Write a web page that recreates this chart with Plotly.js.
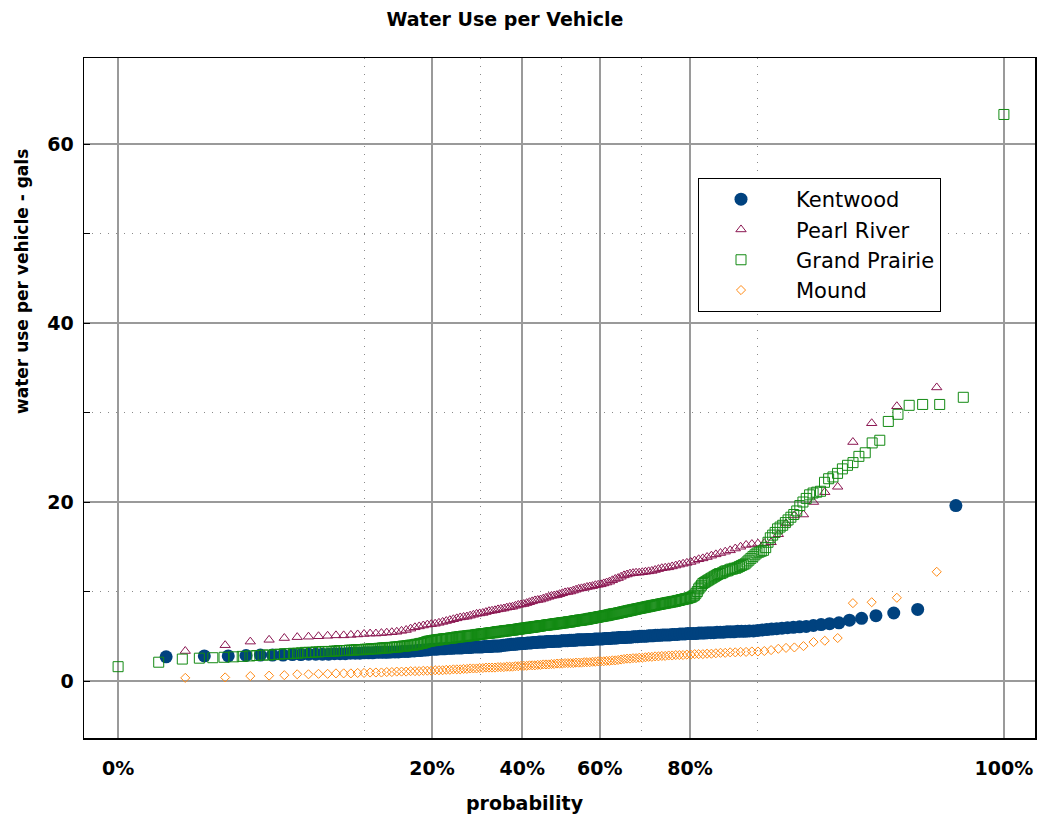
<!DOCTYPE html>
<html><head><meta charset="utf-8">
<script src="https://cdn.plot.ly/plotly-3.0.1.min.js"></script>
<style>html,body{margin:0;padding:0;background:#fff}#chart{width:1040px;height:823px}</style>
</head><body><div id="chart"></div>
<script>
const seriesNames = ['Kentwood', 'Pearl River', 'Grand Prairie', 'Mound'];

const kentwood = [
 2.7,2.8,2.8,2.85,2.9,2.9,2.9,2.95,2.95,3.0,
 3.0,3.0,3.0,3.05,3.05,3.05,3.1,3.1,3.1,3.15,
 3.15,3.15,3.2,3.2,3.2,3.2,3.25,3.25,3.25,3.3,
 3.3,3.3,3.35,3.35,3.4,3.4,3.45,3.45,3.5,3.55,
 3.55,3.55,3.6,3.6,3.6,3.65,3.65,3.65,3.7,3.7,
 3.7,3.7,3.75,3.75,3.75,3.75,3.8,3.8,3.8,3.8,
 3.8,3.85,3.85,3.85,3.85,3.9,3.9,3.9,3.9,3.95,
 4.0,4.0,4.05,4.05,4.1,4.1,4.1,4.15,4.15,4.2,
 4.2,4.2,4.25,4.25,4.25,4.3,4.3,4.3,4.35,4.35,
 4.35,4.35,4.4,4.4,4.4,4.4,4.45,4.45,4.45,4.45,
 4.5,4.5,4.5,4.5,4.55,4.55,4.55,4.55,4.6,4.6,
 4.6,4.6,4.6,4.65,4.65,4.65,4.65,4.7,4.7,4.7,
 4.7,4.7,4.75,4.75,4.75,4.75,4.8,4.8,4.8,4.85,
 4.85,4.85,4.85,4.9,4.9,4.9,4.95,4.95,4.95,5.0,
 5.0,5.0,5.0,5.05,5.05,5.05,5.1,5.1,5.1,5.15,
 5.15,5.15,5.15,5.2,5.2,5.2,5.25,5.25,5.25,5.3,
 5.3,5.3,5.3,5.35,5.35,5.35,5.4,5.4,5.4,5.45,
 5.45,5.45,5.5,5.5,5.5,5.55,5.55,5.55,5.6,5.6,
 5.65,5.7,5.75,5.8,5.85,5.9,5.95,6.0,6.05,6.1,
 6.2,6.3,6.4,6.5,6.8,7.0,7.3,7.6,8.0,19.6
];

const pearlRiver = [
 3.35,4.0,4.4,4.6,4.8,4.9,4.95,5.0,5.05,5.1,
 5.1,5.15,5.2,5.25,5.3,5.3,5.35,5.4,5.45,5.5,
 5.6,5.7,5.85,6.0,6.1,6.2,6.3,6.35,6.4,6.5,
 6.6,6.7,6.8,6.9,7.0,7.1,7.15,7.2,7.3,7.4,
 7.5,7.55,7.6,7.7,7.8,7.85,7.9,8.0,8.05,8.1,
 8.2,8.25,8.3,8.4,8.5,8.55,8.6,8.7,8.8,8.9,
 9.0,9.05,9.1,9.2,9.3,9.4,9.5,9.55,9.6,9.7,
 9.8,9.9,9.95,10.0,10.1,10.2,10.3,10.35,10.4,10.5,
 10.55,10.6,10.7,10.75,10.8,10.9,11.0,11.1,11.25,11.4,
 11.5,11.65,11.8,11.9,12.0,12.05,12.1,12.1,12.15,12.2,
 12.25,12.3,12.4,12.5,12.6,12.65,12.7,12.8,12.9,13.0,
 13.1,13.2,13.3,13.45,13.6,13.7,13.85,14.0,14.15,14.3,
 14.45,14.6,14.8,15.0,15.2,15.3,15.35,15.4,15.5,16.4,
 17.6,18.5,18.6,20.0,21.1,21.7,26.7,28.8,30.7,32.8
];

const grandPrairie = [
 1.6,2.1,2.45,2.55,2.6,2.65,2.7,2.75,2.8,2.85,
 2.9,2.9,2.95,3.0,3.05,3.05,3.1,3.1,3.15,3.2,
 3.2,3.2,3.25,3.25,3.3,3.3,3.3,3.3,3.35,3.35,
 3.4,3.4,3.4,3.4,3.45,3.45,3.45,3.5,3.5,3.5,
 3.5,3.55,3.55,3.55,3.6,3.6,3.6,3.6,3.65,3.65,
 3.7,3.7,3.7,3.7,3.75,3.75,3.75,3.8,3.8,3.8,
 3.85,3.85,3.9,3.9,3.9,3.95,3.95,4.0,4.0,4.0,
 4.05,4.1,4.1,4.15,4.2,4.2,4.25,4.3,4.35,4.4,
 4.45,4.45,4.5,4.5,4.55,4.55,4.6,4.6,4.6,4.65,
 4.65,4.7,4.7,4.7,4.75,4.75,4.75,4.8,4.8,4.8,
 4.85,4.85,4.9,4.9,4.9,4.95,4.95,4.95,5.0,5.0,
 5.0,5.0,5.05,5.05,5.05,5.1,5.1,5.1,5.1,5.15,
 5.15,5.2,5.2,5.2,5.25,5.25,5.25,5.3,5.3,5.3,
 5.3,5.35,5.35,5.35,5.4,5.4,5.4,5.4,5.45,5.45,
 5.5,5.5,5.5,5.5,5.55,5.55,5.55,5.6,5.6,5.6,
 5.6,5.65,5.65,5.65,5.7,5.7,5.7,5.7,5.75,5.75,
 5.75,5.8,5.8,5.8,5.85,5.85,5.85,5.9,5.9,5.9,
 5.9,5.95,5.95,5.95,6.0,6.0,6.0,6.0,6.05,6.05,
 6.05,6.1,6.1,6.1,6.15,6.15,6.15,6.2,6.2,6.2,
 6.2,6.25,6.25,6.25,6.3,6.3,6.3,6.3,6.35,6.35,
 6.35,6.4,6.4,6.4,6.4,6.45,6.45,6.45,6.5,6.5,
 6.5,6.5,6.55,6.55,6.55,6.6,6.6,6.6,6.6,6.65,
 6.65,6.7,6.7,6.7,6.75,6.75,6.75,6.8,6.8,6.8,
 6.8,6.85,6.85,6.85,6.9,6.9,6.9,6.95,6.95,7.0,
 7.0,7.0,7.05,7.05,7.1,7.1,7.1,7.15,7.15,7.2,
 7.2,7.2,7.25,7.25,7.3,7.3,7.3,7.35,7.35,7.4,
 7.4,7.45,7.45,7.5,7.5,7.5,7.55,7.55,7.6,7.6,
 7.65,7.65,7.7,7.7,7.75,7.75,7.8,7.8,7.85,7.85,
 7.9,7.9,7.95,7.95,8.0,8.0,8.05,8.05,8.1,8.1,
 8.15,8.15,8.2,8.2,8.25,8.25,8.3,8.3,8.35,8.35,
 8.4,8.4,8.45,8.45,8.5,8.5,8.55,8.55,8.6,8.6,
 8.65,8.65,8.7,8.7,8.75,8.75,8.8,8.8,8.85,8.85,
 8.9,8.9,8.95,9.0,9.0,9.05,9.1,9.1,9.15,9.2,
 9.2,9.25,9.3,9.35,9.4,9.5,9.6,9.8,10.0,10.3,
 10.5,10.7,10.9,11.0,11.1,11.2,11.3,11.4,11.5,11.6,
 11.7,11.8,11.9,12.0,12.0,12.1,12.2,12.3,12.3,12.4,
 12.5,12.5,12.6,12.6,12.7,12.8,12.9,13.0,13.1,13.3,
 13.5,13.7,13.9,14.1,14.3,14.4,14.5,14.6,14.9,15.5,
 16.0,16.3,16.6,17.0,17.2,17.4,17.7,18.0,18.3,18.6,
 19.0,19.6,20.0,20.4,20.8,21.0,21.1,21.2,22.2,22.6,
 22.8,23.2,23.7,24.1,24.4,25.1,25.5,26.6,26.9,29.0,
 29.8,30.8,30.9,30.9,31.7,63.3
];

const mound = [
 0.35,0.4,0.55,0.6,0.65,0.75,0.75,0.8,0.8,0.85,
 0.85,0.85,0.9,0.9,0.95,0.95,0.95,1.0,1.0,1.05,
 1.05,1.05,1.1,1.1,1.1,1.15,1.15,1.15,1.2,1.2,
 1.2,1.25,1.25,1.3,1.3,1.3,1.35,1.35,1.4,1.4,
 1.4,1.45,1.45,1.5,1.5,1.5,1.5,1.55,1.55,1.55,
 1.6,1.6,1.6,1.65,1.65,1.7,1.7,1.7,1.75,1.75,
 1.75,1.8,1.8,1.85,1.85,1.85,1.9,1.9,1.95,1.95,
 1.95,2.0,2.0,2.0,2.0,2.05,2.05,2.05,2.1,2.1,
 2.1,2.15,2.15,2.2,2.2,2.2,2.25,2.25,2.3,2.3,
 2.35,2.4,2.45,2.5,2.5,2.55,2.55,2.6,2.6,2.65,
 2.7,2.7,2.75,2.75,2.8,2.8,2.85,2.85,2.9,2.9,
 2.9,2.95,2.95,3.0,3.0,3.0,3.05,3.05,3.1,3.15,
 3.15,3.2,3.2,3.25,3.25,3.3,3.3,3.35,3.45,3.6,
 3.7,3.75,3.9,4.35,4.5,4.8,8.7,8.8,9.3,12.2
];

const probabilityTickPct = [0, 20, 40, 60, 80, 100];
const probabilityMinorPct = [10, 30, 50, 70, 90];
const yTickVals = [0, 20, 40, 60];
const yMinorVals = [10, 30, 50];

// ---- normal probability scale ----
function normInv(p) {
  const a = [-3.969683028665376e+01, 2.209460984245205e+02, -2.759285104469687e+02, 1.383577518672690e+02, -3.066479806614716e+01, 2.506628277459239e+00];
  const b = [-5.447609879822406e+01, 1.615858368580409e+02, -1.556989798598866e+02, 6.680131188771972e+01, -1.328068155288572e+01];
  const c = [-7.784894002430293e-03, -3.223964580411365e-01, -2.400758277161838e+00, -2.549732539343734e+00, 4.374664141464968e+00, 2.938163982698783e+00];
  const d = [7.784695709041462e-03, 3.224671290700398e-01, 2.445134137142996e+00, 3.754408661907416e+00];
  const plow = 0.02425;
  let q, r;
  if (p < plow) {
    q = Math.sqrt(-2 * Math.log(p));
    return (((((c[0]*q+c[1])*q+c[2])*q+c[3])*q+c[4])*q+c[5]) / ((((d[0]*q+d[1])*q+d[2])*q+d[3])*q+1);
  } else if (p <= 1 - plow) {
    q = p - 0.5; r = q*q;
    return (((((a[0]*r+a[1])*r+a[2])*r+a[3])*r+a[4])*r+a[5])*q / (((((b[0]*r+b[1])*r+b[2])*r+b[3])*r+b[4])*r+1);
  } else {
    q = Math.sqrt(-2 * Math.log(1 - p));
    return -(((((c[0]*q+c[1])*q+c[2])*q+c[3])*q+c[4])*q+c[5]) / ((((d[0]*q+d[1])*q+d[2])*q+d[3])*q+1);
  }
}
// plotting positions (i - a)/(n + 1 - 2a) mapped to normal quantiles
function plotPositions(n, a) {
  const out = [];
  for (let i = 1; i <= n; i++) out.push(normInv((i - a) / (n + 1 - 2 * a)));
  return out;
}

const xK = plotPositions(kentwood.length, 0);
const xP = plotPositions(pearlRiver.length, 0);
const xG = plotPositions(grandPrairie.length, 0.2);
const xM = plotPositions(mound.length, 0);

const zMin = xG[0], zMax = xG[xG.length - 1];
const tickVals = probabilityTickPct.map(p => p === 0 ? zMin : (p === 100 ? zMax : normInv(p / 100)));
const tickText = probabilityTickPct.map(p => p + '%');
const minorVals = probabilityMinorPct.map(p => normInv(p / 100));

const FONT = 'DejaVu Sans, Liberation Sans, Arial, sans-serif';

const traces = [
  { x: xK, y: kentwood, name: seriesNames[0], type: 'scatter', mode: 'markers',
    marker: { symbol: 'circle', size: 13, color: '#00427f' } },
  { x: xP, y: pearlRiver, name: seriesNames[1], type: 'scatter', mode: 'markers',
    marker: { symbol: 'triangle-up-open', size: 9, color: '#8b1752', line: { width: 1, color: '#8b1752' } } },
  { x: xG, y: grandPrairie, name: seriesNames[2], type: 'scatter', mode: 'markers',
    marker: { symbol: 'square-open', size: 10, color: '#138a13', line: { width: 1, color: '#138a13' } } },
  { x: xM, y: mound, name: seriesNames[3], type: 'scatter', mode: 'markers',
    marker: { symbol: 'diamond-open', size: 7, color: '#ff8a14', line: { width: 1, color: '#ff8a14' } } }
];

const L = 84, R = 1035, T = 58, B = 738;
const pxPerZ = 153.2, zCenterPx = 561;
const pxPerY = 8.95, y0px = 681;

const layout = {
  width: 1040, height: 823,
  margin: { l: L, r: 1040 - R, t: T, b: 823 - B, pad: 0 },
  paper_bgcolor: '#ffffff', plot_bgcolor: '#ffffff',
  font: { family: FONT, color: '#000' },
  showlegend: true,
  title: { text: 'Water Use per Vehicle', font: { family: FONT, size: 19, weight: 'bold', color: '#000' },
           x: 505 / 1040, xref: 'container', xanchor: 'center', y: 1 - 19 / 823, yref: 'container', yanchor: 'middle' },
  xaxis: {
    range: [(L - zCenterPx) / pxPerZ, (R - zCenterPx) / pxPerZ],
    tickmode: 'array', tickvals: tickVals, ticktext: tickText,
    tickfont: { family: FONT, size: 19, weight: 'bold', color: '#000' },
    ticks: '', ticklabelstandoff: 13,
    showgrid: true, gridcolor: '#9a9a9a', gridwidth: 1.5,
    zeroline: false, showline: true, linecolor: '#000', linewidth: 1.5, mirror: true,
    minor: { tickmode: 'array', tickvals: minorVals, showgrid: true, gridcolor: '#8a8a8a', gridwidth: 1, griddash: '1px,7px', ticks: '' },
    fixedrange: true
  },
  yaxis: {
    range: [(y0px - B) / pxPerY, (y0px - T) / pxPerY],
    tickmode: 'array', tickvals: yTickVals, ticktext: yTickVals.map(String),
    tickfont: { family: FONT, size: 19, weight: 'bold', color: '#000' },
    ticks: 'inside', ticklen: 6, tickcolor: '#000', tickwidth: 1, ticklabelstandoff: 5,
    showgrid: true, gridcolor: '#9a9a9a', gridwidth: 1.5,
    zeroline: false, showline: true, linecolor: '#000', linewidth: 1.5, mirror: true,
    minor: { tickmode: 'array', tickvals: yMinorVals, showgrid: true, gridcolor: '#8a8a8a', gridwidth: 1, griddash: '1px,7px', ticks: 'inside', ticklen: 6, tickcolor: '#000' },
    fixedrange: true
  },
  legend: {
    x: (698 - L) / (R - L), y: (B - 178) / (B - T), xanchor: 'left', yanchor: 'top',
    bgcolor: '#ffffff', bordercolor: '#000', borderwidth: 1,
    font: { family: FONT, size: 21, color: '#000' },
    itemwidth: 100, indentation: -13, tracegroupgap: 0
  },
  annotations: [
    { text: 'probability', xref: 'paper', yref: 'paper', x: (525 - L) / (R - L), y: (B - 803) / (B - T),
      xanchor: 'center', yanchor: 'middle', showarrow: false,
      font: { family: FONT, size: 19, weight: 'bold', color: '#000' } },
    { text: 'water use per vehicle - gals', xref: 'paper', yref: 'paper', x: (22 - L) / (R - L), y: (B - 282) / (B - T),
      xanchor: 'center', yanchor: 'middle', showarrow: false, textangle: -90,
      font: { family: FONT, size: 17, weight: 'bold', color: '#000' } }
  ]
};

Plotly.newPlot('chart', traces, layout, { displayModeBar: false, staticPlot: true });
</script>
</body></html>
